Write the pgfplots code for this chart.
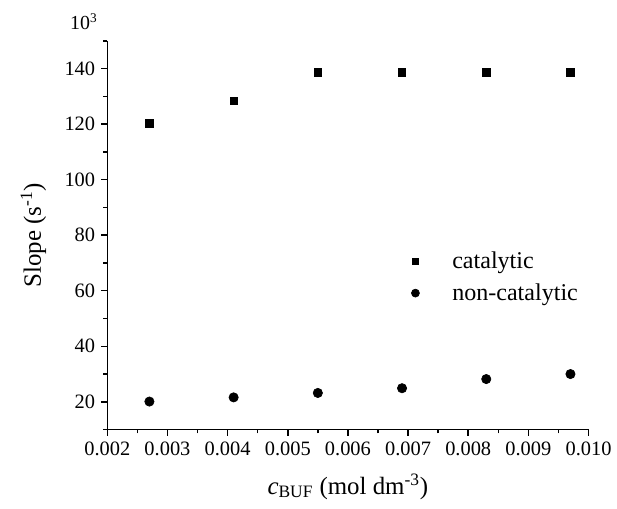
\documentclass[border=0pt]{standalone}
\usepackage{pgfplots}
\pgfplotsset{compat=1.18}
\usepackage{fontspec}
\setmainfont{Liberation Serif}
\pgfplotsset{
  legsq/.style={legend image code/.code={\draw[##1, mark size=1.9pt] plot coordinates {(0cm,0cm)}; \path[draw=none,fill=none] (0,0) -- (0.71cm,0);}},
  legci/.style={legend image code/.code={\draw[##1, mark size=2.4pt] plot coordinates {(0cm,0cm)}; \path[draw=none,fill=none] (0,0) -- (0.71cm,0);}},
}
\begin{document}
\begin{tikzpicture}
\begin{axis}[
  scale only axis,
  width=290pt, height=234.3pt,
  xmin=0.002, xmax=0.010, ymin=10, ymax=150,
  axis x line*=bottom, axis y line*=left,
  axis line style={-, line width=0.9pt},
  tick style={line width=0.9pt, black},
  tick align=outside,
  major tick length=3.8pt, minor tick length=2.3pt,
  xtick={0.002,0.003,0.004,0.005,0.006,0.007,0.008,0.009,0.010},
  minor xtick={0.0025,0.0035,0.0045,0.0055,0.0065,0.0075,0.0085,0.0095},
  ytick={20,40,60,80,100,120,140},
  minor ytick={10,30,50,70,90,110,130,150},
  scaled x ticks=false,
  x tick label style={/pgf/number format/.cd, fixed, fixed zerofill, precision=3, assume math mode=true},
  y tick label style={/pgf/number format/assume math mode=true},
  tick label style={font=\fontsize{12.3}{14}\selectfont},
  xlabel={\textit{c}\textsubscript{BUF} (mol dm\textsuperscript{-3})},
  ylabel={Slope (s\textsuperscript{-1})},
  label style={font=\fontsize{15}{17}\selectfont},
  xlabel style={at={(rel axis cs:0.5,-0.166)}, anchor=base},
  ylabel style={at={(rel axis cs:-0.138,0.5)}, anchor=base},
  legend style={draw=none, fill=none, at={(rel axis cs:0.621,0.475)}, anchor=north west, font=\fontsize{14.5}{17}\selectfont, row sep=3.5pt},
  legend cell align=left,
  clip=false,
]
\addplot[only marks, mark=square*, mark size=2.2pt, black, legsq] coordinates {
(0.0027,120.3) (0.0041,128.3) (0.0055,138.6) (0.0069,138.6) (0.0083,138.6) (0.0097,138.6)};
\addlegendentry{catalytic}
\addplot[only marks, mark=*, mark size=2.8pt, black, legci] coordinates {
(0.0027,20.1) (0.0041,21.6) (0.0055,23.2) (0.0069,24.9) (0.0083,28.2) (0.0097,30.0)};
\addlegendentry{non-catalytic}
\node[anchor=base, font=\fontsize{12}{14}\selectfont] at (rel axis cs:-0.0486,1.028) {10\textsuperscript{3}};
\path (rel axis cs:-0.223,-0.202) rectangle (rel axis cs:1.052,1.105);
\end{axis}
\end{tikzpicture}
\end{document}
